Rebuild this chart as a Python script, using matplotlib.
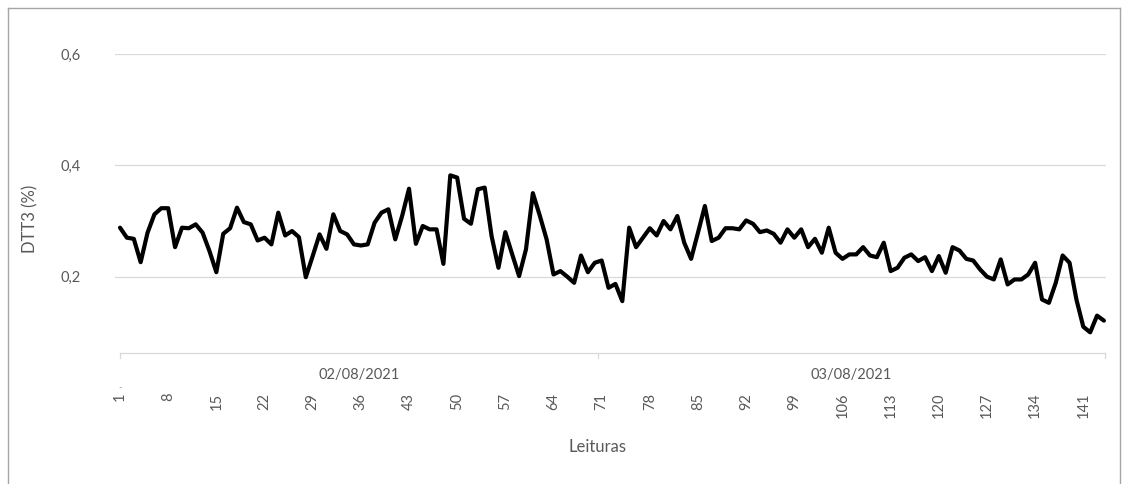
import matplotlib
matplotlib.use("Agg")
import matplotlib.pyplot as plt
from matplotlib.lines import Line2D

plt.rcParams['font.family'] = ['Lato', 'DejaVu Sans']

# readings (DTT3 %), one per reading 1..144
dtt3 = [
    0.288, 0.270, 0.268, 0.226, 0.279, 0.312, 0.323, 0.323, 0.253, 0.288,
    0.287, 0.294, 0.279, 0.246, 0.208, 0.277, 0.287, 0.324, 0.298, 0.294,
    0.265, 0.270, 0.258, 0.315, 0.274, 0.282, 0.271, 0.199, 0.237, 0.276,
    0.250, 0.312, 0.282, 0.276, 0.258, 0.256, 0.258, 0.297, 0.315, 0.321,
    0.267, 0.309, 0.358, 0.259, 0.291, 0.285, 0.285, 0.223, 0.382, 0.378,
    0.304, 0.295, 0.357, 0.360, 0.273, 0.216, 0.280, 0.240, 0.201, 0.249,
    0.350, 0.310, 0.267, 0.204, 0.210, 0.200, 0.189, 0.238, 0.208, 0.225,
    0.229, 0.180, 0.187, 0.156, 0.288, 0.253, 0.270, 0.287, 0.274, 0.300,
    0.285, 0.309, 0.261, 0.232, 0.279, 0.327, 0.264, 0.270, 0.287, 0.287,
    0.285, 0.301, 0.295, 0.280, 0.283, 0.277, 0.261, 0.285, 0.270, 0.285,
    0.253, 0.268, 0.243, 0.288, 0.243, 0.232, 0.240, 0.240, 0.253, 0.238,
    0.235, 0.261, 0.210, 0.216, 0.234, 0.240, 0.228, 0.235, 0.210, 0.237,
    0.207, 0.253, 0.247, 0.232, 0.229, 0.213, 0.200, 0.195, 0.231, 0.186,
    0.195, 0.195, 0.204, 0.225, 0.159, 0.153, 0.189, 0.238, 0.225, 0.159,
    0.110, 0.100, 0.130, 0.121,
]
leituras = list(range(1, len(dtt3) + 1))
days = ['02/08/2021', '03/08/2021']
day_split = 70.5   # boundary between the two days
tick_pos = list(range(1, 145, 7))
y_ticks = [0.2, 0.4, 0.6]
y_labels = ['0,2', '0,4', '0,6']

W, H = 1127, 484
fig = plt.figure(figsize=(W / 100, H / 100), dpi=100)
gray = '#595959'
grid = '#D9D9D9'

# plot area in pixels: x 115..1106, y 54..388
ax = fig.add_axes([115 / W, (H - 388) / H, (1106 - 115) / W, (388 - 54) / H])
ax.set_xlim(0.27, 144.3)
ax.set_ylim(0, 0.6)
for s in ax.spines.values():
    s.set_visible(False)

ax.set_yticks(y_ticks)
ax.set_yticklabels(y_labels)
ax.yaxis.grid(True, color=grid, linewidth=0.9)
ax.set_axisbelow(True)
ax.tick_params(axis='y', length=0, pad=25, labelsize=10.5, labelcolor=gray)

ax.set_xticks(tick_pos)
ax.set_xticklabels([str(t) for t in tick_pos], rotation=90)
ax.tick_params(axis='x', length=0, pad=3.5, labelsize=10.5, labelcolor=gray)

ax.plot(leituras, dtt3, color='black', linewidth=3.0, solid_joinstyle='round',
        solid_capstyle='round', zorder=3)

# category axis line with day groups
y_axis = 0.0629
tick_len = 0.009
ax.plot([1, 144.2], [y_axis, y_axis], color=grid, linewidth=0.9, clip_on=False)
for xb in [1, day_split, 144.2]:
    ax.plot([xb, xb], [y_axis, y_axis - tick_len], color=grid, linewidth=0.9,
            clip_on=False)
ax.text((1 + day_split) / 2, 0.0225, days[0], ha='center', va='center',
        fontsize=10.5, color=gray)
ax.text((day_split + 144) / 2, 0.0225, days[1], ha='center', va='center',
        fontsize=10.5, color=gray)
ax.text(1, 0.0, '-', ha='center', va='center', fontsize=7, color='#A0A0A0')

fig.text(598 / W, 1 - 447 / H, 'Leituras', ha='center', va='center',
         fontsize=12, color=gray)
fig.text(30 / W, 1 - 219 / H, 'DTT3 (%)', ha='center', va='center',
         rotation=90, fontsize=12, color=gray)

# chart border (cut by the screenshot at bottom)
border = '#A6A6A6'
fig.add_artist(Line2D([7.5 / W, 7.5 / W], [0, 1 - 8 / H], color=border, linewidth=1))
fig.add_artist(Line2D([7.5 / W, 1120 / W], [1 - 8 / H, 1 - 8 / H], color=border, linewidth=1))
fig.add_artist(Line2D([1120 / W, 1120 / W], [1 - 8 / H, 0], color=border, linewidth=1))

fig.savefig('out.png', dpi=100)
plt.close()
